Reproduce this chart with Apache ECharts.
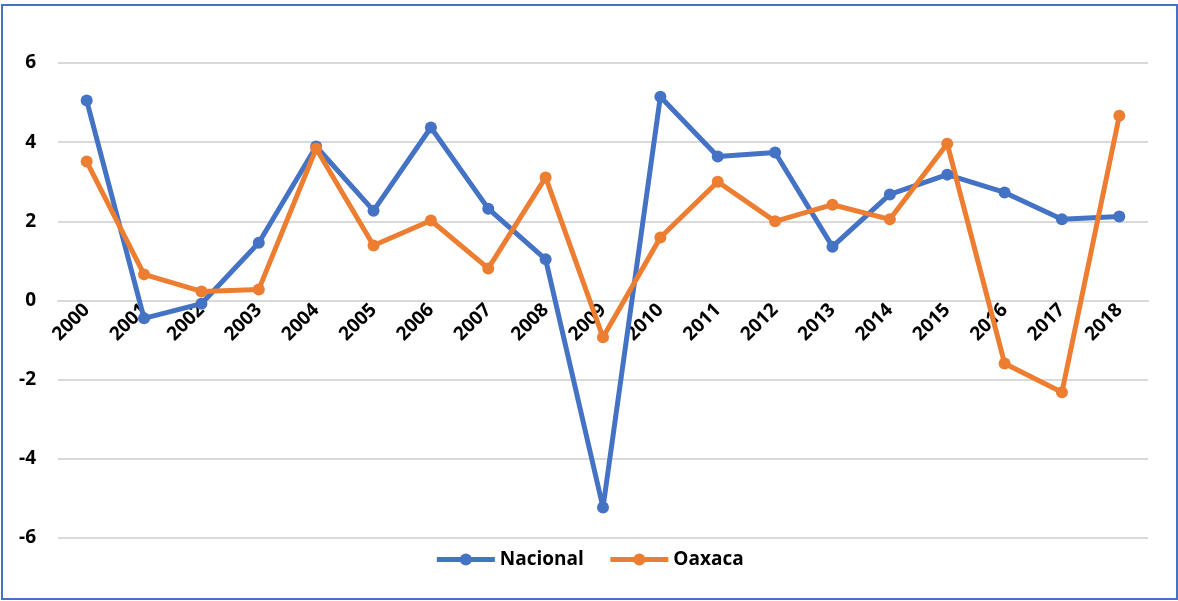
<!DOCTYPE html>
<html>
<head>
    <meta charset="utf-8">
    <title>Nacional vs Oaxaca</title>
    <script src="https://cdn.jsdelivr.net/npm/echarts@6/dist/echarts.min.js"></script>
</head>
<style>
    html, body {
        width: 100%;
        height: 100%;
        margin: 0;
        background: #fff;
    }
    #frame {
        position: absolute;
        left: 1px;
        top: 4px;
        width: 1173px;
        height: 592px;
        border: 2px solid #4472c4;
    }
    #main {
        position: absolute;
        left: 0;
        top: 0;
        width: 1178px;
        height: 601px;
    }
</style>
<body>
<div id="frame"></div>
<div id="main"></div>
<script>
    var years = ['2000', '2001', '2002', '2003', '2004', '2005', '2006', '2007', '2008', '2009',
        '2010', '2011', '2012', '2013', '2014', '2015', '2016', '2017', '2018'];
    var nacional = [5.05, -0.45, -0.08, 1.46, 3.89, 2.27, 4.37, 2.32, 1.04, -5.23,
        5.15, 3.64, 3.74, 1.36, 2.68, 3.18, 2.73, 2.05, 2.12];
    var oaxaca = [3.51, 0.66, 0.23, 0.28, 3.84, 1.39, 2.02, 0.81, 3.11, -0.93,
        1.59, 3.0, 2.0, 2.42, 2.05, 3.96, -1.59, -2.32, 4.67];

    var font = '"Open Sans", "Liberation Sans", sans-serif';

    var chart = echarts.init(document.getElementById('main'));
    // x axis sits at the zero line (y = 0 is 237px above the bottom of the grid)
    var option = {
        animation: false,
        textStyle: {fontFamily: font},
        grid: {left: 58, right: 30, top: 63, bottom: 63, containLabel: false},
        legend: {
            bottom: 27,
            left: 'center',
            itemWidth: 58,
            itemHeight: 15,
            itemGap: 24,
            lineStyle: {width: 5},
            textStyle: {fontSize: 19, fontWeight: 'bold', color: '#000', fontFamily: font},
            data: ['Nacional', 'Oaxaca']
        },
        xAxis: {
            type: 'category',
            data: years,
            offset: -237,
            z: 1,
            axisLine: {onZero: false, lineStyle: {color: '#d9d9d9', width: 2}},
            axisTick: {show: false},
            axisLabel: {
                rotate: 45,
                color: '#000',
                fontSize: 19,
                fontWeight: 'bold',
                margin: 6,
                interval: 0
            }
        },
        yAxis: {
            type: 'value',
            min: -6,
            max: 6,
            interval: 2,
            axisLine: {show: false},
            axisTick: {show: false},
            splitLine: {lineStyle: {color: '#d9d9d9', width: 2}},
            axisLabel: {color: '#000', fontSize: 19, fontWeight: 'bold', margin: 22}
        },
        series: [{
            name: 'Nacional',
            type: 'line',
            z: 3,
            data: nacional,
            symbol: 'circle',
            symbolSize: 12,
            itemStyle: {color: '#4472c4'},
            lineStyle: {width: 5, color: '#4472c4'}
        }, {
            name: 'Oaxaca',
            type: 'line',
            z: 3,
            data: oaxaca,
            symbol: 'circle',
            symbolSize: 12,
            itemStyle: {color: '#ed7d31'},
            lineStyle: {width: 5, color: '#ed7d31'}
        }]
    };
    chart.setOption(option);
    window.onresize = chart.resize;
</script>
</body>
</html>
